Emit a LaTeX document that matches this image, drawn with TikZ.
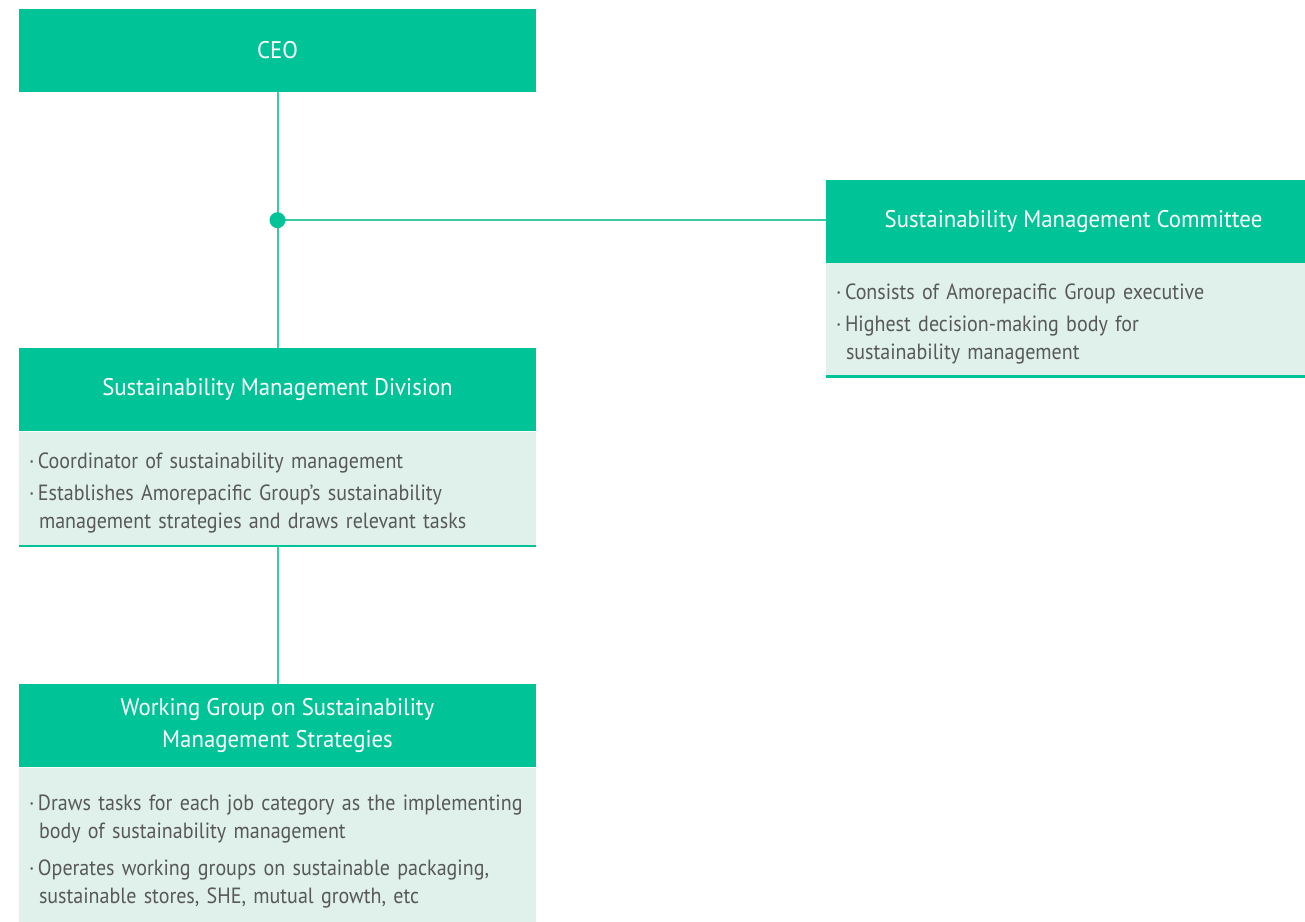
\documentclass[tikz,border=0pt]{standalone}
\usepackage{fontspec}
\setmainfont[FakeStretch=0.91]{PT Sans}
\newfontfamily\headfont[FakeStretch=0.95]{PT Sans}
\usetikzlibrary{positioning}
\definecolor{smgreen}{RGB}{0,196,151}
\definecolor{smpale}{RGB}{223,241,234}
\definecolor{smline}{RGB}{60,202,166}
\definecolor{smtext}{RGB}{88,88,88}
\newcommand{\dotitem}[1]{\par\hangindent=10pt\hangafter=1\noindent\makebox[9pt][l]{\textperiodcentered}#1\par}
\tikzset{
    headbox/.style={fill=smgreen, text=white, minimum width=517pt, minimum height=83pt,
        inner sep=0pt, align=center, font=\headfont\fontsize{24}{32}\selectfont},
    bodybox/.style={fill=smpale, text=smtext, minimum width=517pt, inner xsep=10pt, inner ysep=0pt,
        text width=497pt, align=left, font=\fontsize{22}{28}\selectfont,
        execute at begin node={\setlength{\parskip}{4pt}},
        execute at end node={\vspace{8pt}}},
    link/.style={draw=smline, line width=2pt},
    rule/.style={draw=smgreen, line width=2.5pt},
}
\begin{document}
\begin{tikzpicture}[x=1pt,y=1pt]
    \useasboundingbox (0,0) rectangle (1305,921);
    \node[headbox] (ceo) at (277.5,870.5) {CEO};
    \node[headbox, below=256pt of ceo] (smd) {Sustainability Management Division};
    \node[bodybox, below=0pt of smd, minimum height=114pt] (smdbody)
        {\dotitem{Coordinator of sustainability management}
         \dotitem{Establishes Amorepacific Group's sustainability\break management strategies and draws relevant tasks}};
    \node[headbox, below=138pt of smdbody] (wg) {Working Group on Sustainability\\Management Strategies};
    \node[bodybox, below=0pt of wg, minimum height=155pt,
        execute at begin node={\setlength{\parskip}{9pt}}] (wgbody)
        {\dotitem{Draws tasks for each job category as the implementing\break body of sustainability management}
         \dotitem{Operates working groups on sustainable packaging,\break sustainable stores, SHE, mutual growth, etc}};
    \node[headbox, minimum width=479pt] (smc) at (1065.5,699.5) {\hspace*{16pt}Sustainability Management Committee};
    \node[bodybox, below=0pt of smc, minimum width=479pt, text width=459pt, minimum height=113pt] (smcbody)
        {\dotitem{Consists of Amorepacific Group executive}
         \dotitem{Highest decision-making body for\break sustainability management}};
    % rules under the text boxes
    \draw[rule] (smdbody.south west) -- (smdbody.south east);
    \draw[rule] (smcbody.south west) -- (smcbody.south east);
    % connectors
    \path (ceo.south) ++(0,-128) coordinate (junc);
    \draw[link] (ceo) -- (smd);
    \draw[link] (junc) -- (junc -| smc.west);
    \draw[link] (smdbody) -- (wg);
    \fill[smgreen] (junc) circle (8pt);
\end{tikzpicture}
\end{document}
